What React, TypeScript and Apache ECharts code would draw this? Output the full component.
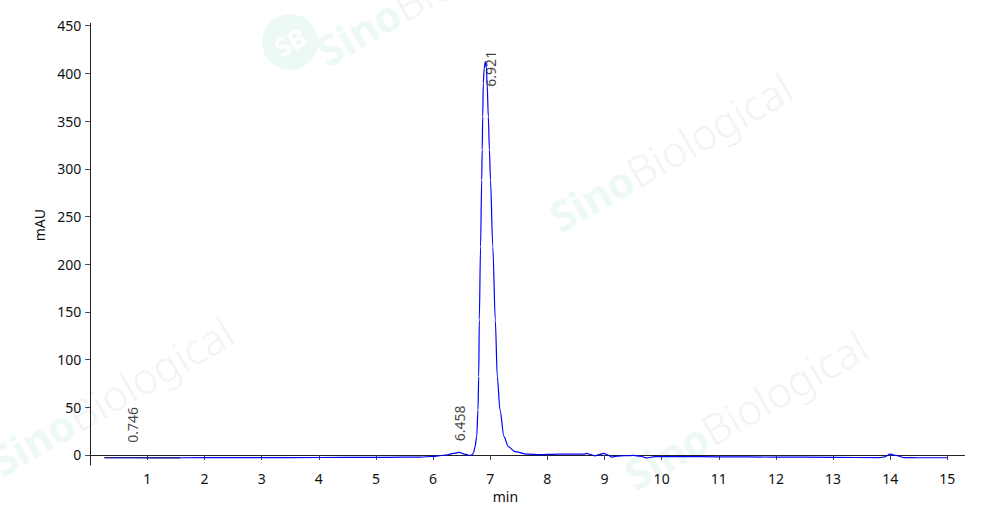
import React, { useEffect, useRef } from "react";
import * as echarts from "echarts";

// Retention time (min)
const retentionTimes = [
  0.25, 0.75, 1.2, 1.58, 2.5, 3.5, 4.5, 5.2, 5.775, 6.0, 6.12, 6.25, 6.35, 6.458, 6.55, 6.646,
  6.69, 6.71, 6.734, 6.764, 6.786, 6.799, 6.809, 6.831, 6.851, 6.86, 6.869, 6.879, 6.895, 6.916,
  6.934, 6.946, 6.967, 6.986, 7.005, 7.045, 7.089, 7.124, 7.171, 7.241, 7.317, 7.434, 7.639,
  7.871, 8.2, 8.63, 8.69, 8.76, 8.83, 8.92, 8.99, 9.06, 9.13, 9.22, 9.35, 9.51, 9.62, 9.74, 9.88,
  10.32, 10.99, 11.98, 13.0, 13.82, 13.9, 14.0, 14.1, 14.24, 14.5, 15.0,
];
// Absorbance (mAU)
const absorbance = [
  -2.8, -2.8, -2.9, -2.9, -2.8, -2.7, -2.6, -2.5, -2.2, -1.5, -0.8, 0.2, 1.6, 2.8, 1.0, -0.6,
  0.5, 2.5, 8.7, 19.2, 47.2, 82.1, 141.5, 218.4, 288.3, 319.8, 354.6, 389.6, 405.6, 412.3,
  405.6, 389.6, 354.6, 319.8, 288.3, 218.4, 141.5, 82.1, 47.2, 19.2, 8.7, 3.5, 1.0,
  0.3, 0.8, 0.8, 1.6, 0.5, -0.9, 0.6, 1.7, 0.0, -2.2, -1.2, -0.8, -0.5, -1.3, -3.0, -1.8,
  -1.7, -1.9, -2.2, -2.5, -2.8, -2.0, 0.8, -0.5, -2.7, -2.9, -2.9,
];
const darkSegmentEnd = 1.58;

const peakTimes = [0.746, 6.458, 6.921];
const peakLabels = ["0.746", "6.458", "6.921"];
const peakHeights = [-2.8, 2.8, 412.3];

const xTickValues = [1, 2, 3, 4, 5, 6, 7, 8, 9, 10, 11, 12, 13, 14, 15];
const yTickValues = [0, 50, 100, 150, 200, 250, 300, 350, 400, 450];

const FONT = "Noto Sans";

export default function App() {
  const ref = useRef<HTMLDivElement>(null);
  useEffect(() => {
    if (!ref.current) return;
    const chart = echarts.init(ref.current, undefined, { renderer: "svg" });
    const points = retentionTimes.map((t, i) => [t, absorbance[i]]);
    const darkPoints = points.filter((p) => p[0] <= darkSegmentEnd);
    const labelPos = [
      [0.5, -14.5],
      [0.5, -10.5],
      [5, 25.5],
    ];
    const mint = "#edf9f5";
    const grey = "#f2f4f3";
    const wm = (x: number, y: number, size: number) => ({
      type: "text",
      x,
      y,
      rotation: Math.PI / 6,
      silent: true,
      style: {
        text: "{a|Sino}{b|Biological}",
        align: "left",
        verticalAlign: "bottom",
        rich: {
          a: { fontFamily: FONT, fontSize: size, fontWeight: "bold", fill: mint },
          b: { fontFamily: FONT, fontSize: size, fontWeight: 300, fill: grey },
        },
      },
    });
    chart.setOption({
      animation: false,
      backgroundColor: "#ffffff",
      grid: { left: 90.2, top: 23.3, width: 874.3, height: 441.7, containLabel: false },
      graphic: [
        { type: "circle", silent: true, shape: { cx: 290, cy: 42, r: 28 }, style: { fill: mint } },
        {
          type: "text",
          x: 290,
          y: 42,
          rotation: Math.PI / 6,
          silent: true,
          style: {
            text: "SB",
            fill: "#ffffff",
            font: `bold 26px '${FONT}'`,
            align: "center",
            verticalAlign: "middle",
          },
        },
        wm(330, 72, 42),
        wm(563, 238, 42),
        wm(4, 482, 42),
        wm(638, 496, 42),
      ],
      xAxis: {
        type: "value",
        min: 0,
        max: 15.3,
        name: "min",
        nameLocation: "middle",
        nameGap: 22,
        nameTextStyle: { fontFamily: FONT, fontSize: 14, color: "#111", padding: [0, 44, 0, 0] },
        splitLine: { show: false },
        axisLine: { show: true, lineStyle: { color: "#222", width: 1 } },
        axisTick: { show: true, length: 5, lineStyle: { color: "#445" }, customValues: xTickValues },
        axisLabel: {
          customValues: xTickValues,
          fontFamily: FONT,
          fontSize: 14,
          color: "#111",
          margin: 6,
        },
      },
      yAxis: {
        type: "value",
        min: -10.5,
        max: 452.5,
        name: "mAU",
        nameLocation: "middle",
        nameGap: 44,
        nameRotate: 90,
        nameTextStyle: { fontFamily: FONT, fontSize: 14, color: "#111", padding: [0, 0, 0, 38] },
        splitLine: { show: false },
        axisLine: { show: true, lineStyle: { color: "#222", width: 1 } },
        axisTick: { show: true, length: 5, lineStyle: { color: "#445" }, customValues: yTickValues },
        axisLabel: {
          customValues: yTickValues,
          fontFamily: FONT,
          fontSize: 14,
          color: "#111",
          margin: 9,
        },
      },
      series: [
        {
          type: "line",
          data: points,
          showSymbol: false,
          smooth: 0.3,
          smoothMonotone: "x",
          lineStyle: { color: "#0000ff", width: 1.2 },
          z: 3,
        },
        {
          type: "line",
          data: darkPoints,
          showSymbol: false,
          lineStyle: { color: "#22228a", width: 1.3 },
          z: 4,
        },
        {
          type: "scatter",
          symbolSize: 1,
          itemStyle: { color: "rgba(0,0,0,0)" },
          z: 5,
          data: peakTimes.map((t, i) => ({
            value: [t, peakHeights[i]],
            label: {
              show: true,
              formatter: peakLabels[i],
              position: labelPos[i],
              rotate: 90,
              align: "left",
              verticalAlign: "middle",
              fontFamily: FONT,
              fontSize: 14,
              color: "#111",
            },
          })),
        },
      ],
    });
    return () => chart.dispose();
  }, []);
  return <div ref={ref} style={{ position: "fixed", left: 0, top: 0, width: 1000, height: 523 }} />;
}
